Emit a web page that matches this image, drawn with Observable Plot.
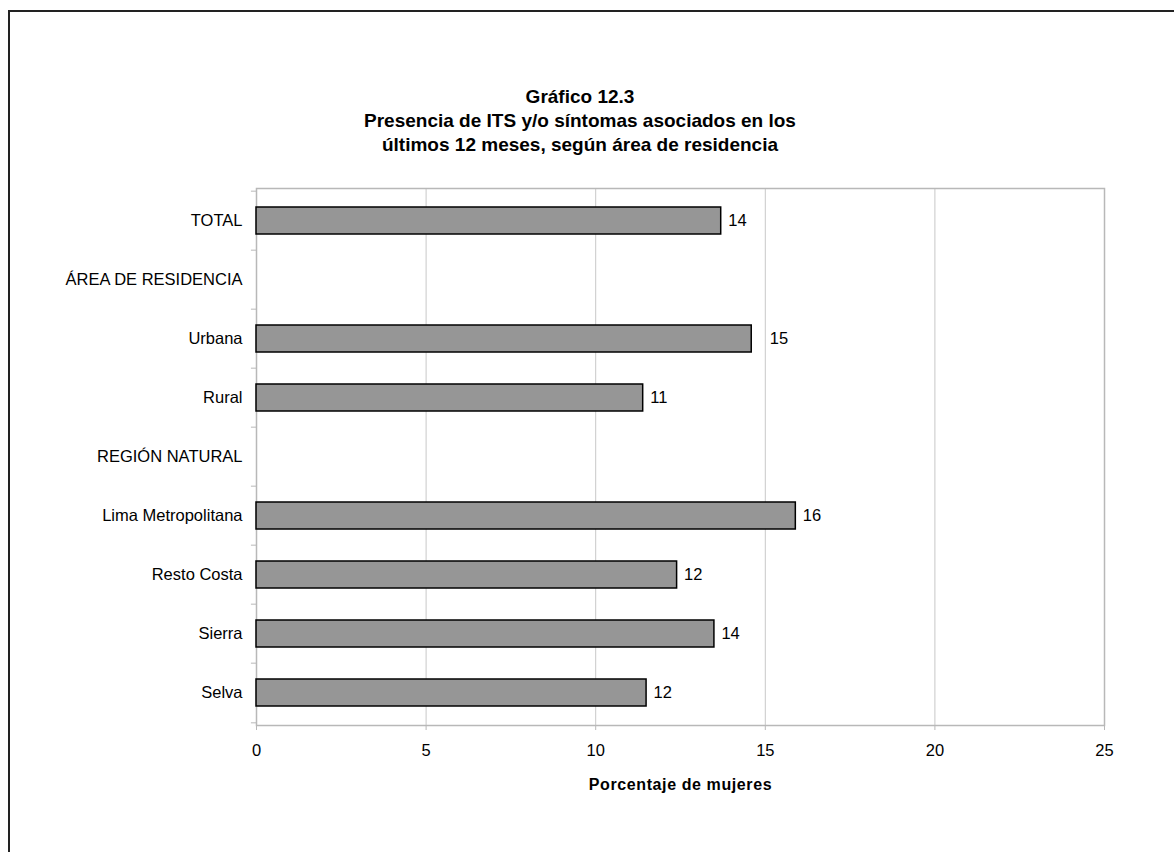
<!DOCTYPE html>
<html>
<head>
<meta charset="utf-8">
<script src="https://cdn.jsdelivr.net/npm/d3@7"></script>
<script src="https://cdn.jsdelivr.net/npm/@observablehq/plot@0.6"></script>
<style>
  html, body { margin: 0; padding: 0; background: #fff; overflow: hidden; }
  body { width: 1174px; height: 852px; position: relative; font-family: "Liberation Sans", Arial, sans-serif; }
  #frame { position: absolute; left: 8px; top: 10px; width: 1200px; height: 900px; border: 2px solid #222; box-sizing: border-box; }
  #title { position: absolute; left: 0; top: 85px; width: 1160px; text-align: center; font-weight: bold; font-size: 19px; line-height: 24px; color: #000; }
  #chart { position: absolute; left: 0; top: 160px; }
  #chart svg { font-family: "Liberation Sans", Arial, sans-serif; overflow: visible; }
  #chart [aria-label="x-axis label"] { font-weight: bold; font-size: 16px; letter-spacing: 0.6px; }
</style>
</head>
<body>
<div id="frame"></div>
<div id="title">Gráfico 12.3<br>Presencia de ITS y/o síntomas asociados en los<br>últimos 12 meses, según área de residencia</div>
<div id="chart"></div>
<script>
const categories = ["TOTAL", "ÁREA DE RESIDENCIA", "Urbana", "Rural", "REGIÓN NATURAL", "Lima Metropolitana", "Resto Costa", "Sierra", "Selva"];
const values = [13.7, null, 14.6, 11.4, null, 15.9, 12.4, 13.5, 11.5];
const valueLabels = ["14", "", "15", "11", "", "16", "12", "14", "12"];
const xTicks = [0, 5, 10, 15, 20, 25];

const rows = categories.map((c, i) => ({category: c, value: values[i], label: valueLabels[i]}));
const bars = rows.filter(d => d.value != null);

const plotTop = 188, plotBottom = 725, svgTop = 160;
const H = 852 - svgTop;
const step = (plotBottom - plotTop) / categories.length;

const chart = Plot.plot({
  width: 1174,
  height: H,
  marginLeft: 256,
  marginRight: 70,
  marginTop: plotTop - svgTop,
  marginBottom: H - (plotBottom - svgTop),
  style: {fontSize: "16.5px", color: "#000", background: "transparent"},
  x: {domain: [0, 25], ticks: xTicks},
  y: {domain: categories, paddingInner: 0.54, paddingOuter: 0.27},
  marks: [
    Plot.gridX(xTicks.slice(1, -1), {stroke: "#c8c8c8", strokeOpacity: 1, strokeWidth: 1}),
    Plot.frame({stroke: "#b8b8b8", strokeWidth: 1.5}),
    Plot.axisX({ticks: xTicks, tickSize: 5, tickPadding: 14, stroke: "#b8b8b8", fill: "#000",
      label: "Porcentaje de mujeres", labelAnchor: "center", labelArrow: "none", labelOffset: 64}),
    Plot.axisY({tickSize: 0, tickPadding: 14, label: null, fill: "#000"}),
    Plot.ruleY(categories, {y: d => d, x1: -0.15, x2: 0, dy: -step / 2, stroke: "#b8b8b8"}),
    Plot.ruleY(categories.slice(-1), {y: d => d, x1: -0.15, x2: 0, dy: step / 2, stroke: "#b8b8b8"}),
    Plot.barX(bars, {x: "value", y: "category", fill: "#969696", stroke: "#000", strokeWidth: 1.5}),
    Plot.text(bars.filter(d => d.category !== "Urbana"), {x: "value", y: "category", text: "label", textAnchor: "start", dx: 7, fontSize: 16.5, fill: "#000"}),
    Plot.text(bars.filter(d => d.category === "Urbana"), {x: "value", y: "category", text: "label", textAnchor: "start", dx: 18, fontSize: 16.5, fill: "#000"})
  ]
});
document.getElementById("chart").appendChild(chart);
</script>
</body>
</html>
